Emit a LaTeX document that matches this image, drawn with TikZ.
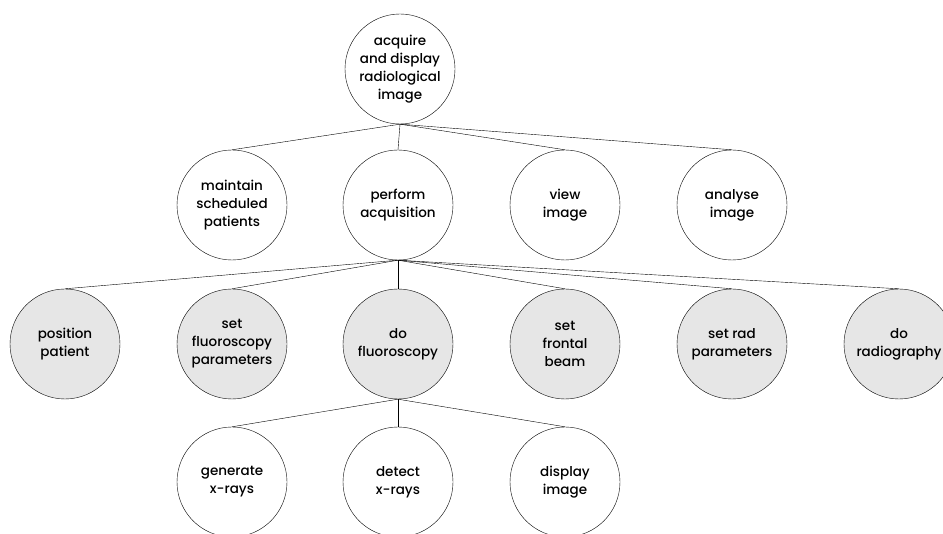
\documentclass[tikz,border=0pt]{standalone}
\usepackage{fontspec}
\setmainfont{Poppins Medium}
\definecolor{taskgrey}{RGB}{230,230,230}
\tikzset{
  task/.style={draw, circle, thin, minimum size=110pt, inner sep=0pt, align=center,
    font=\fontsize{13.5}{18}\selectfont},
  subtask/.style={task, fill=taskgrey}
}
\begin{document}
\begin{tikzpicture}[x=1pt, y=-1pt]
				\useasboundingbox (0,0) rectangle (943,534);
				\clip (0,0) rectangle (943,534);
				\node [task] (acq) at (400,69) {acquire\\and display\\radiological\\image};
				\node [task] (maint) at (232,205) {maintain\\scheduled\\patients};
				\node [task] (perf) at (398,205) {perform\\acquisition};
				\node [task] (view) at (565,205) {view\\image};
				\node [task] (anal) at (732,205) {analyse\\image};
				\node [subtask] (pos) at (65,344) {position\\patient};
				\node [subtask] (setfl) at (232,344) {set\\fluoroscopy\\parameters};
				\node [subtask] (dofl) at (398,344) {do\\fluoroscopy};
				\node [subtask] (beam) at (565,344) {set\\frontal\\beam};
				\node [subtask] (setrad) at (732,344) {set rad\\parameters};
				\node [subtask] (dorad) at (899,344) {do\\radiography};
				\node [task] (gen) at (232,482) {generate\\x-rays};
				\node [task] (det) at (398,482) {detect\\x-rays};
				\node [task] (disp) at (565,482) {display\\image};
				\foreach \n in {maint,perf,view,anal}
					\draw (acq.south) -- (\n.north);
				\foreach \n in {pos,setfl,dofl,beam,setrad,dorad}
					\draw (perf.south) -- (\n.north);
				\foreach \n in {gen,det,disp}
					\draw (dofl.south) -- (\n.north);
			\end{tikzpicture}
\end{document}
